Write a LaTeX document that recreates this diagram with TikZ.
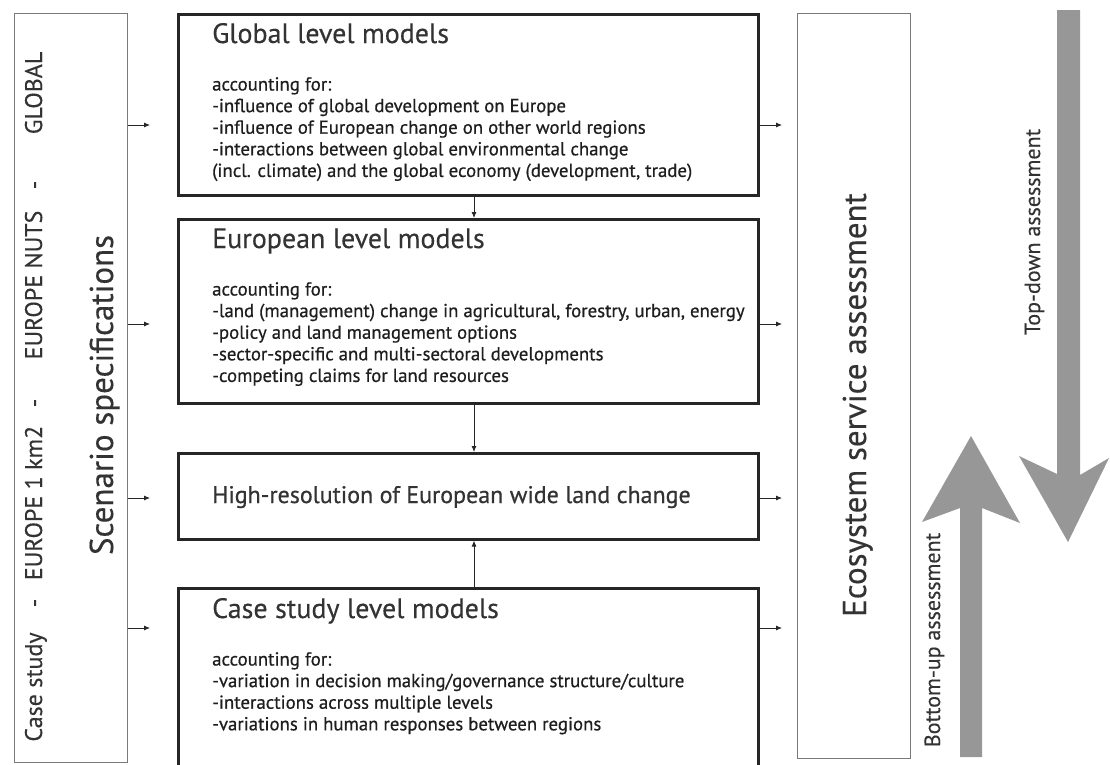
\documentclass[tikz,border=0pt]{standalone}
\usepackage{fontspec}
\setmainfont{PT Sans}
\newfontfamily\heavyfont[FakeBold=0.6]{PT Sans}
\newfontfamily\midfont[FakeBold=0.3]{PT Sans}
\usetikzlibrary{arrows.meta}
\definecolor{boxline}{HTML}{262626}
\definecolor{thinline}{HTML}{7A7A7A}
\definecolor{bigarrow}{HTML}{979797}
\definecolor{txt}{HTML}{1E1E1E}
\definecolor{ttl}{HTML}{333333}
\begin{document}
\begin{tikzpicture}[x=1pt,y=-1pt,
  modelbox/.style={draw=boxline, line width=2.6pt, inner sep=0pt, anchor=north west, minimum width=580pt},
  sidebox/.style={draw=thinline, line width=1.2pt, inner sep=0pt, anchor=north west, minimum width=113pt},
  link/.style={draw=black!85, line width=0.8pt, -{Latex[length=6pt,width=5pt]}},
  title/.style={anchor=base west, inner sep=0pt, text=ttl, font=\midfont\fontsize{28}{32}\selectfont},
  body/.style={anchor=north west, inner sep=0pt, align=left, text=txt, font=\heavyfont\fontsize{18.8}{21.6}\selectfont},
  vlabel/.style={rotate=90, anchor=base, inner sep=0pt, text=ttl},
  small/.style={vlabel, font=\midfont\fontsize{24}{28}\selectfont},
  bigarr/.style={fill=bigarrow, draw=none}]
\useasboundingbox (0,0) rectangle (1110,764);
\clip (0,0) rectangle (1110,764);

% boxes
\node[sidebox, minimum height=749pt] (left) at (14,13) {};
\node[modelbox, minimum height=181pt] (glob) at (177,13) {};
\node[modelbox, minimum height=184pt] (euro) at (177,218) {};
\node[modelbox, minimum height=86pt] (hires) at (177,452) {};
\node[modelbox, minimum height=185pt] (case) at (177,587) {};
\node[sidebox, minimum height=745pt] (eco) at (797,13) {};

% left strip texts
\node[small] (lglob) at (42,93) {GLOBAL};
\node[small] (d1) at (42,185) {-};
\node[small] (lnuts) at (42,285) {EUROPE NUTS};
\node[small] (d2) at (42,403) {-};
\node[small] (lkm) at (42,503) {EUROPE 1 km2};
\node[small] (d3) at (42,603) {-};
\node[small] (lcase) at (42,687) {Case study};
\node[vlabel, font=\midfont\fontsize{33}{38}\selectfont] (scen) at (113,395) {Scenario specifications};

% main box texts
\node[title] (tglob) at (212,43) {Global level models};
\node[body] (bglob) at (212,77) {accounting for:\\-influence of global development on Europe\\-influence of European change on other world regions\\-interactions between global environmental change\\(incl. climate) and the global economy (development, trade)};

\node[title] (teuro) at (212,248) {European level models};
\node[body] (beuro) at (212,282) {accounting for:\\-land (management) change in agricultural, forestry, urban, energy\\-policy and land management options\\-sector-specific and multi-sectoral developments\\-competing claims for land resources};

\node[title, font=\heavyfont\fontsize{24}{28}\selectfont] (thires) at (212,503) {High-resolution of European wide land change};

\node[title] (tcase) at (212,618) {Case study level models};
\node[body] (bcase) at (212,652) {accounting for:\\-variation in decision making/governance structure/culture\\-interactions across multiple levels\\-variations in human responses between regions};

% right texts
\node[vlabel, font=\midfont\fontsize{33}{38}\selectfont] (ecot) at (866,405) {Ecosystem service assessment};
\node[vlabel, font=\midfont\fontsize{22}{26}\selectfont] (tdt) at (1040,232) {Top-down assessment};
\node[vlabel, font=\midfont\fontsize{22}{26}\selectfont] (but) at (940,640) {Bottom-up assessment};

% small arrows left -> models
\coordinate (a1) at (150,125);
\coordinate (a2) at (150,324);
\coordinate (a3) at (150,498);
\coordinate (a4) at (150,628);
\draw[link] (a1 -| left.east) -- (a1);
\draw[link] (a2 -| left.east) -- (a2);
\draw[link] (a3 -| left.east) -- (a3);
\draw[link] (a4 -| left.east) -- (a4);

% models -> right
\coordinate (b1) at (782,125);
\coordinate (b2) at (782,324);
\coordinate (b3) at (782,498);
\coordinate (b4) at (782,628);
\draw[link] (b1 -| glob.east) -- (b1);
\draw[link] (b2 -| euro.east) -- (b2);
\draw[link] (b3 -| hires.east) -- (b3);
\draw[link] (b4 -| case.east) -- (b4);

% vertical connectors
\coordinate (vx) at (474,0);
\draw[link] (vx |- glob.south) -- (vx |- euro.north);
\draw[link] (vx |- euro.south) -- (vx |- hires.north);
\draw[link] (vx |- case.north) -- (vx |- hires.south);

% big grey arrows
\fill[bigarr] (1057,10) -- (1080,10) -- (1080,475) -- (1109,458) -- (1068,542) -- (1019,456) -- (1057,474) -- cycle;
\fill[bigarr] (960,757) -- (960,508) -- (922,522) -- (971,436) -- (1020,523) -- (982,508) -- (982,757) -- cycle;
\end{tikzpicture}
\end{document}
